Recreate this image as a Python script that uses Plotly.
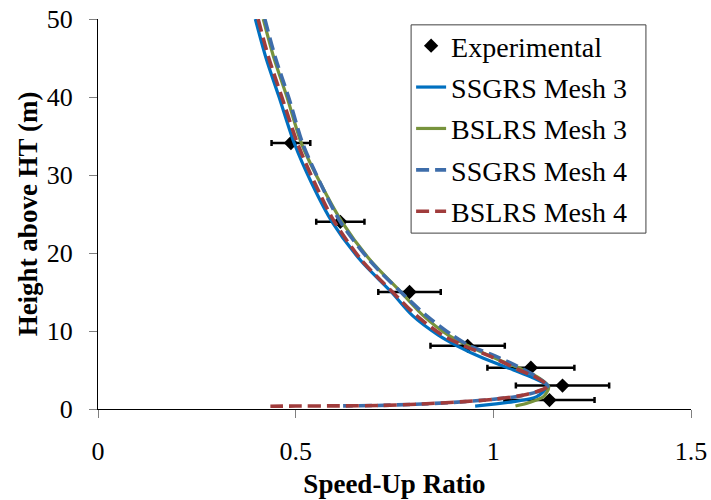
import plotly.graph_objects as go

# Experimental data
exp_x = [0.488, 0.613, 0.788, 0.935, 1.095, 1.175, 1.142]
exp_y = [34.1, 24.0, 15.0, 8.1, 5.3, 3.0, 1.15]
exp_err = [0.049, 0.061, 0.079, 0.094, 0.110, 0.118, 0.114]

# SSGRS Mesh 3
ssg3_x = [0.398, 0.425, 0.458, 0.497, 0.540, 0.592, 0.665, 0.742, 0.795, 0.860, 0.908, 0.975, 1.051, 1.100, 1.136, 1.110, 1.051, 0.954]
ssg3_y = [50, 45, 40, 34, 29, 24, 19, 15, 12, 9.5, 8.1, 6.5, 5, 4, 2.95, 1.58, 0.94, 0.38]

# BSLRS Mesh 3
bsl3_x = [0.418, 0.445, 0.478, 0.515, 0.562, 0.617, 0.690, 0.766, 0.822, 0.885, 0.937, 1.005, 1.076, 1.115, 1.140, 1.127, 1.089, 1.056]
bsl3_y = [50, 45, 40, 34, 29, 24, 19, 15, 12, 9.5, 8.1, 6.5, 5, 4, 2.86, 1.58, 0.81, 0.38]

# SSGRS Mesh 4
ssg4_x = [0.422, 0.449, 0.482, 0.518, 0.562, 0.613, 0.688, 0.766, 0.830, 0.895, 0.940, 0.995, 1.060, 1.110, 1.138, 1.110, 1.060, 0.990, 0.900, 0.800, 0.700, 0.620]
ssg4_y = [50, 45, 40, 34, 29, 24, 19, 15, 12, 9.5, 8.1, 7, 5.5, 4.1, 2.95, 2.2, 1.6, 1.2, 0.85, 0.6, 0.45, 0.4]

# BSLRS Mesh 4
bsl4_x = [0.405, 0.432, 0.465, 0.505, 0.548, 0.598, 0.668, 0.745, 0.805, 0.870, 0.925, 0.990, 1.065, 1.110, 1.138, 1.125, 1.077, 1.001, 0.925, 0.815, 0.714, 0.600, 0.500, 0.436]
bsl4_y = [50, 45, 40, 34, 29, 24, 19, 15, 12, 9.5, 8.1, 6.8, 5, 4, 2.95, 2.5, 1.8, 1.24, 0.94, 0.64, 0.45, 0.4, 0.38, 0.35]

x_ticks = [0, 0.5, 1, 1.5]
x_tick_labels = ["0", "0.5", "1", "1.5"]
y_ticks = [0, 10, 20, 30, 40, 50]

FONT = "Liberation Serif"

fig = go.Figure()
fig.add_trace(go.Scatter(
    x=exp_x, y=exp_y, mode="markers", name="Experimental", legendgroup="a",
    marker=dict(symbol="diamond", size=11, color="black"),
    error_x=dict(type="data", array=exp_err, visible=True, color="black", thickness=2.5, width=3),
))
fig.add_trace(go.Scatter(x=ssg3_x, y=ssg3_y, mode="lines", name="SSGRS Mesh 3", legendgroup="b",
                         line=dict(color="#0070C0", width=3.2, shape="spline", smoothing=0.8)))
fig.add_trace(go.Scatter(x=bsl3_x, y=bsl3_y, mode="lines", name="BSLRS Mesh 3", legendgroup="c",
                         line=dict(color="#77933C", width=3.2, shape="spline", smoothing=0.8)))
fig.add_trace(go.Scatter(x=ssg4_x, y=ssg4_y, mode="lines", name="SSGRS Mesh 4", legendgroup="d",
                         line=dict(color="#3E6DAA", width=3.6, dash="13px,6px", shape="spline", smoothing=0.8)))
fig.add_trace(go.Scatter(x=bsl4_x, y=bsl4_y, mode="lines", name="BSLRS Mesh 4", legendgroup="e",
                         line=dict(color="#A03C3C", width=3.6, dash="13px,6px", shape="spline", smoothing=0.8)))

# legend frame
fig.add_shape(type="rect", xref="paper", yref="paper",
              x0=0.528, x1=0.924, y0=0.451, y1=0.985,
              line=dict(color="#404040", width=1), fillcolor="white", layer="below")

fig.update_layout(
    width=711, height=500,
    margin=dict(l=98, r=20, t=19, b=91),
    paper_bgcolor="white", plot_bgcolor="white",
    font=dict(family=FONT, size=26, color="black"),
    showlegend=True,
    legend=dict(x=0.528, y=0.995, xanchor="left", yanchor="top",
                bgcolor="rgba(0,0,0,0)", borderwidth=0,
                tracegroupgap=2,
                font=dict(family=FONT, size=28, color="black")),
)
fig.update_xaxes(
    range=[0, 1.5], tickvals=x_ticks, ticktext=x_tick_labels, automargin=False,
    ticklabeloverflow="allow",
    showgrid=False, zeroline=False, showline=True, linecolor="black", linewidth=1.3,
    ticks="outside", ticklen=8, tickcolor="#808080", tickwidth=1.3,
    tickfont=dict(family=FONT, size=26), ticklabelstandoff=11,
    title=dict(text="<b>Speed-Up Ratio</b>", font=dict(family=FONT, size=27), standoff=8),
)
fig.update_yaxes(
    range=[0, 50], tickvals=y_ticks, automargin=False,
    ticklabeloverflow="allow",
    showgrid=False, zeroline=False, showline=True, linecolor="black", linewidth=1.3,
    ticks="outside", ticklen=8, tickcolor="#808080", tickwidth=1.3,
    tickfont=dict(family=FONT, size=26), ticklabelstandoff=11,
    title=dict(text="<b>Height above HT (m)</b>", font=dict(family=FONT, size=27), standoff=1),
)

# remove the default 8px page margin so the figure sits at the window's corner
fig.write_html("out.html", config={"displayModeBar": False},
               post_script="document.body.style.margin='0';")
